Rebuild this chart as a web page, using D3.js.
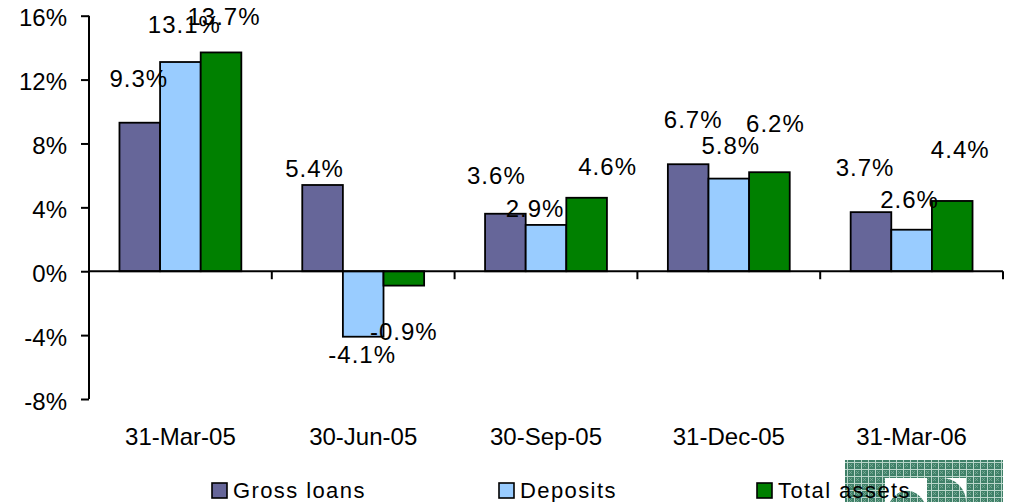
<!DOCTYPE html>
<html>
<head>
<meta charset="utf-8">
<script src="https://cdn.jsdelivr.net/npm/d3@7"></script>
<style>
  html, body { margin: 0; padding: 0; background: #ffffff; }
  svg { display: block; }
  text { font-family: "Liberation Sans", Arial, sans-serif; fill: #000; }
</style>
</head>
<body>
<svg id="chart" width="1009" height="502"></svg>
<script>
// ---- data ----
const categories = ["31-Mar-05", "30-Jun-05", "30-Sep-05", "31-Dec-05", "31-Mar-06"];
const seriesNames = ["Gross loans", "Deposits", "Total assets"];
const grossLoans  = [9.3, 5.4, 3.6, 6.7, 3.7];
const deposits    = [13.1, -4.1, 2.9, 5.8, 2.6];
const totalAssets = [13.7, -0.9, 4.6, 6.2, 4.4];
const yTickValues = [-8, -4, 0, 4, 8, 12, 16];

// ---- styling / layout (not data) ----
const colors = ["#666699", "#99CCFF", "#008000"];
// manual data-label nudges (pixels) as placed in the original
const labelDx = [[-1, -8, -9, 5, -6], [4, -1, -11, 2, -2], [3, 0, 21, 6, 8]];
const labelDy = [[-36, -8, -30, -36, -36], [-29, 26, -8, -25, -22], [-27, 54, -23, -40, -43]];
const legendX = [212, 499, 757];

const seriesValues = [grossLoans, deposits, totalAssets];
const svg = d3.select("#chart");

const y = d3.scaleLinear().domain([-8, 16]).range([399, 15.7]);
const x0 = d3.scaleBand().domain(categories).range([89, 1003]).paddingInner(0).paddingOuter(0);
const x1 = d3.scaleBand().domain(seriesNames).range([0, x0.bandwidth()]).paddingInner(0).paddingOuter(0.75);

// ---- bars ----
const rows = [];
categories.forEach((c, i) => {
  seriesNames.forEach((s, j) => {
    rows.push({ cat: c, ser: s, si: j, ci: i, v: seriesValues[j][i] });
  });
});

svg.append("g").selectAll("rect").data(rows).join("rect")
  .attr("x", d => x0(d.cat) + x1(d.ser))
  .attr("width", x1.bandwidth())
  .attr("y", d => y(Math.max(0, d.v)))
  .attr("height", d => Math.abs(y(d.v) - y(0)))
  .attr("fill", d => colors[d.si])
  .attr("stroke", "#000")
  .attr("stroke-width", 1.8);

// ---- y axis ----
const yAxis = svg.append("g").attr("transform", "translate(89,0)")
  .call(d3.axisLeft(y).tickValues(yTickValues).tickSize(8).tickPadding(14)
        .tickFormat(d => d + "%"));
yAxis.select(".domain").attr("stroke", "#000").attr("stroke-width", 2)
  .attr("d", `M0,${y(16)}V${y(-8)}`);
yAxis.selectAll(".tick line").attr("stroke", "#000").attr("stroke-width", 2);
yAxis.selectAll(".tick text")
  .attr("font-size", 24).attr("font-family", "Liberation Sans, Arial, sans-serif")
  .attr("dy", "0.42em").attr("fill", "#000");

// ---- x axis (zero line) ----
const xAxis = svg.append("g").attr("transform", `translate(0,${y(0)})`)
  .call(d3.axisBottom(x0).tickSize(0).tickFormat(""));
xAxis.select(".domain").attr("stroke", "#000").attr("stroke-width", 2)
  .attr("d", `M${x0.range()[0]},0H${x0.range()[1]}`);
xAxis.selectAll(".tick").remove();
const boundaries = categories.slice(1).map(c => x0(c)).concat([x0.range()[1]]);
xAxis.selectAll("line.bt").data(boundaries).join("line")
  .attr("class", "bt")
  .attr("x1", d => d).attr("x2", d => d)
  .attr("y1", 0).attr("y2", 8)
  .attr("stroke", "#000").attr("stroke-width", 2);

// category labels
svg.append("g").selectAll("text").data(categories).join("text")
  .attr("x", d => x0(d) + x0.bandwidth() / 2)
  .attr("y", 445)
  .attr("text-anchor", "middle")
  .attr("font-size", 24)
  .text(d => d);

// ---- data labels ----
svg.append("g").selectAll("text").data(rows).join("text")
  .attr("x", d => x0(d.cat) + x1(d.ser) + x1.bandwidth() / 2 + labelDx[d.si][d.ci])
  .attr("y", d => y(d.v) + labelDy[d.si][d.ci])
  .attr("text-anchor", "middle")
  .attr("font-size", 24)
  .attr("letter-spacing", 1)
  .text(d => d.v.toFixed(1) + "%");

// ---- logo (decorative, bottom-right) ----
const defs = svg.append("defs");
const pat = defs.append("pattern").attr("id", "mesh").attr("patternUnits", "userSpaceOnUse")
  .attr("width", 7).attr("height", 7);
pat.append("rect").attr("width", 7).attr("height", 7).attr("fill", "#3f8068");
pat.append("path").attr("d", "M0,0.5H7M0.5,0V7").attr("stroke", "#b9d6ca").attr("stroke-width", 1);
pat.append("path").attr("d", "M2,2L5,5M5,2L2,5").attr("stroke", "#7fae9b").attr("stroke-width", 0.8);
const logo = svg.append("g");
logo.append("rect").attr("x", 845).attr("y", 460).attr("width", 158).attr("height", 42).attr("fill", "url(#mesh)");
logo.append("rect").attr("x", 885).attr("y", 478).attr("width", 42).attr("height", 24).attr("fill", "#fff");
logo.append("path").attr("d", "M890,502 A20,24 0 0 1 924,502 Z").attr("fill", "url(#mesh)");
logo.append("rect").attr("x", 942).attr("y", 478).attr("width", 24).attr("height", 24).attr("fill", "#fff");
logo.append("path").attr("d", "M942,502 V478 A24,24 0 0 1 966,502 Z").attr("fill", "url(#mesh)");

// ---- legend ----
const legend = svg.append("g").selectAll("g").data(seriesNames).join("g")
  .attr("transform", (d, i) => `translate(${legendX[i]},483)`);
legend.append("rect").attr("width", 15).attr("height", 15)
  .attr("fill", (d, i) => colors[i]).attr("stroke", "#000").attr("stroke-width", 1.6);
legend.append("text").attr("x", 21).attr("y", 15)
  .attr("font-size", 22).attr("letter-spacing", 1.4)
  .text(d => d);
</script>
</body>
</html>
